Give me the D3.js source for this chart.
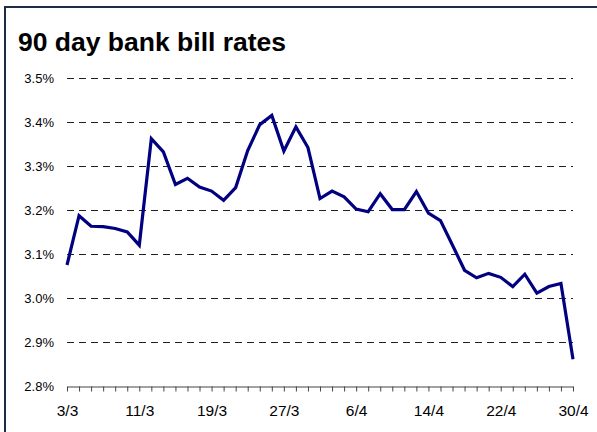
<!DOCTYPE html>
<html>
<head>
<meta charset="utf-8">
<script src="https://cdn.jsdelivr.net/npm/d3@7"></script>
<style>
body { margin: 0; background: #fff; }
text { font-family: "Liberation Sans", Arial, sans-serif; }
</style>
</head>
<body>
<svg id="chart" width="597" height="432"></svg>
<script>
// business day labels, one every 6th shown on the axis
var dates = ["3/3","4/3","5/3","6/3","7/3","10/3","11/3","12/3","13/3","14/3",
    "17/3","18/3","19/3","20/3","21/3","24/3","25/3","26/3","27/3","28/3",
    "31/3","1/4","2/4","3/4","6/4","7/4","8/4","9/4","10/4","11/4",
    "14/4","15/4","16/4","17/4","18/4","21/4","22/4","23/4","24/4","25/4",
    "28/4","29/4","30/4"];
var rates = [3.075,3.187,3.163,3.162,3.158,3.150,3.120,3.362,3.332,3.258,
    3.272,3.252,3.243,3.222,3.251,3.335,3.394,3.415,3.334,3.389,
    3.342,3.226,3.243,3.230,3.202,3.196,3.237,3.201,3.201,3.242,
    3.193,3.176,3.120,3.063,3.046,3.056,3.047,3.026,3.054,3.011,
    3.026,3.033,2.861];
var yTicks = [2.8,2.9,3.0,3.1,3.2,3.3,3.4,3.5];

var svg = d3.select("svg#chart");

// frame (left and top only)
svg.append("line").attr("x1", 5).attr("y1", 7).attr("x2", 597).attr("y2", 7)
    .attr("stroke", "#1c2e45").attr("stroke-width", 2);
svg.append("line").attr("x1", 5).attr("y1", 6).attr("x2", 5).attr("y2", 432)
    .attr("stroke", "#1c2e45").attr("stroke-width", 2);

svg.append("text").attr("x", 18).attr("y", 51).text("90 day bank bill rates")
    .style("font-size", "26.5px").style("font-weight", "bold").attr("fill", "#000");

var x = d3.scalePoint().domain(d3.range(dates.length)).range([67, 573]);
var y = d3.scaleLinear().domain([2.8, 3.5]).range([386, 78]);

// dashed grid
svg.selectAll(".grid")
    .data(yTicks.filter(function(d){ return d > 2.8; }))
    .enter().append("line")
    .attr("class", "grid")
    .attr("x1", 67).attr("x2", 573)
    .attr("y1", function(d){ return Math.round(y(d)) + 0.5; })
    .attr("y2", function(d){ return Math.round(y(d)) + 0.5; })
    .attr("stroke", "#222").attr("stroke-width", 1)
    .attr("stroke-dasharray", "7,5");

// y labels
svg.selectAll(".ylab")
    .data(yTicks)
    .enter().append("text")
    .attr("class", "ylab")
    .attr("x", 54)
    .attr("y", function(d){ return y(d) + 5; })
    .attr("text-anchor", "end")
    .style("font-size", "13px")
    .text(function(d){ return d.toFixed(1) + "%"; });

// x axis
var xAxis = d3.axisBottom(x)
    .tickSizeInner(5).tickSizeOuter(0)
    .tickFormat(function(i){ return i % 6 === 0 ? dates[i] : ""; });
var gx = svg.append("g")
    .attr("transform", "translate(0," + (Math.round(y(2.8)) + 0.5) + ")")
    .call(xAxis);
gx.select(".domain").attr("stroke", "#444");
gx.selectAll(".tick line").attr("stroke", "#444");
gx.selectAll(".tick text")
    .attr("y", 18)
    .style("font-size", "15.5px")
    .style("font-family", "'Liberation Sans', Arial, sans-serif")
    .attr("fill", "#000");

// rate line
var line = d3.line()
    .x(function(d, i){ return x(i); })
    .y(function(d){ return y(d); });
svg.append("path")
    .datum(rates)
    .attr("d", line)
    .attr("fill", "none")
    .attr("stroke", "#000080")
    .attr("stroke-width", 3.2)
    .attr("stroke-linejoin", "miter");
</script>
</body>
</html>
